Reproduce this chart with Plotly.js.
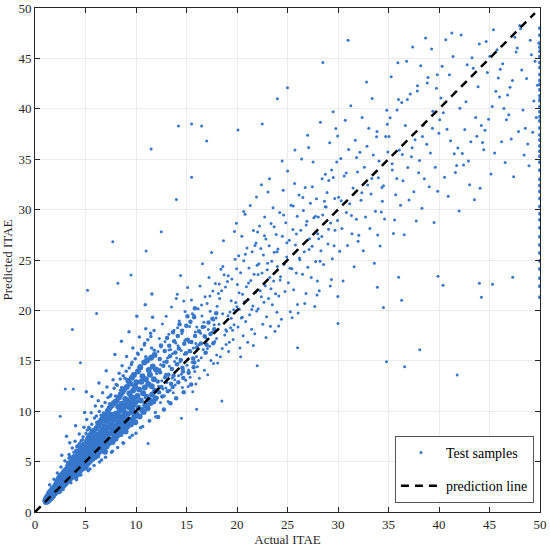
<!DOCTYPE html>
<html>
<head>
<meta charset="utf-8">
<script src="https://cdn.plot.ly/plotly-3.0.1.min.js"></script>
<style>html,body{margin:0;padding:0;background:#fff}#chart{width:550px;height:548px}</style>
</head>
<body>
<div id="chart"></div>
<script>
// Dense core of test samples [actual, predicted]
const coreSamples = [
[1.02,1.15],[1.07,0.98],[1.13,1.42],[1.18,1.21],[1.24,1.05],[1.29,1.63],[1.33,1.37],[1.38,1.19],[1.41,1.88],[1.46,1.52],[1.52,1.31],[1.55,2.07],[1.61,1.68],[1.64,1.44],[1.69,1.93],[1.73,2.31],[1.78,1.62],[1.82,2.04],[1.86,1.75],[1.91,2.46],[1.94,1.83],[1.98,2.19],
[2.03,2.62],[2.06,1.94],[2.11,2.33],[2.14,2.85],[2.19,2.07],[2.23,2.51],[2.27,3.12],[2.31,2.24],[2.36,2.73],[2.38,3.38],[2.42,2.16],[2.47,2.95],[2.51,2.58],[2.53,3.57],[2.58,2.37],[2.62,3.06],[2.66,2.81],[2.69,3.71],[2.73,2.55],[2.77,3.29],[2.81,2.98],[2.84,3.92],[2.88,2.67],[2.93,3.44],[2.97,3.16],[2.99,4.08],
[3.02,2.83],[3.05,3.61],[3.09,3.27],[3.12,4.22],[3.16,3.02],[3.21,3.83],[3.24,3.45],[3.27,4.47],[3.31,3.14],[3.35,3.96],[3.38,3.62],[3.42,4.71],[3.46,3.31],[3.49,4.15],[3.53,3.78],[3.57,4.96],[3.6,3.42],[3.64,4.33],[3.67,3.95],[3.71,5.12],[3.74,3.58],[3.78,4.52],[3.82,4.09],[3.85,5.31],[3.89,3.71],[3.93,4.68],[3.96,4.27],[3.99,3.49],
[4.02,4.83],[4.05,3.82],[4.09,5.47],[4.13,4.41],[4.16,3.69],[4.21,5.08],[4.24,5.83],[4.28,4.62],[4.32,3.97],[4.35,5.29],[4.39,6.05],[4.42,4.78],[4.47,4.12],[4.5,5.52],[4.53,6.31],[4.57,4.95],[4.61,4.23],[4.64,5.74],[4.68,5.16],[4.71,6.48],[4.75,4.41],[4.79,5.91],[4.82,5.33],[4.86,6.66],[4.9,4.57],[4.93,6.1],[4.97,5.48],[4.99,4.38],
[5.03,5.87],[5.06,4.61],[5.1,6.52],[5.14,5.24],[5.17,7.09],[5.21,4.83],[5.25,6.14],[5.28,5.61],[5.32,7.38],[5.36,4.97],[5.39,6.71],[5.43,5.82],[5.47,7.63],[5.5,5.13],[5.54,6.35],[5.58,6.96],[5.61,5.47],[5.65,7.88],[5.69,5.29],[5.72,6.58],[5.76,7.21],[5.8,5.66],[5.83,8.07],[5.87,6.12],[5.91,5.43],[5.94,7.44],[5.98,6.79],
[6.02,5.71],[6.05,7.02],[6.09,8.31],[6.13,6.37],[6.16,5.58],[6.2,7.66],[6.24,6.84],[6.27,8.59],[6.31,5.92],[6.35,7.23],[6.38,6.51],[6.42,8.88],[6.46,6.06],[6.49,7.91],[6.53,7.04],[6.57,9.12],[6.6,6.28],[6.64,7.47],[6.68,8.23],[6.71,6.73],[6.75,9.37],[6.79,6.21],[6.82,7.71],[6.86,8.52],[6.9,6.95],[6.93,5.98],[6.97,9.61],
[7.02,7.36],[7.05,8.14],[7.09,6.49],[7.13,9.03],[7.16,7.68],[7.2,10.02],[7.24,6.77],[7.27,8.41],[7.31,7.12],[7.35,9.34],[7.38,10.31],[7.42,6.92],[7.46,8.69],[7.49,7.81],[7.53,9.66],[7.57,7.19],[7.6,10.57],[7.64,8.27],[7.68,6.95],[7.71,9.11],[7.75,7.96],[7.79,10.79],[7.82,8.53],[7.86,7.42],[7.9,9.48],[7.93,8.11],[7.97,7.26],
[8.02,9.78],[8.05,8.39],[8.09,11.02],[8.13,7.56],[8.16,9.17],[8.2,8.72],[8.24,10.44],[8.27,7.83],[8.31,11.36],[8.35,9.52],[8.38,8.21],[8.42,10.08],[8.46,7.71],[8.49,11.68],[8.53,9.03],[8.57,8.58],[8.6,10.73],[8.64,8.04],[8.68,11.94],[8.71,9.41],[8.75,10.26],[8.79,8.37],[8.82,12.18],[8.86,9.86],[8.9,8.81],[8.93,11.22],[8.97,7.98],
[9.02,10.61],[9.05,9.21],[9.09,12.41],[9.13,8.46],[9.16,11.04],[9.2,9.73],[9.24,13.02],[9.27,8.83],[9.31,10.38],[9.35,11.77],[9.38,9.12],[9.42,12.73],[9.46,10.86],[9.49,8.67],[9.53,11.42],[9.57,9.94],[9.6,13.31],[9.64,10.19],[9.68,8.98],[9.71,12.06],[9.75,10.64],[9.79,13.58],[9.82,9.46],[9.86,11.29],[9.9,12.47],[9.93,8.91],[9.97,10.92],
[10.03,12.88],[10.08,9.67],[10.14,11.51],[10.19,13.94],[10.25,10.33],[10.31,12.16],[10.36,9.48],[10.42,14.37],[10.47,11.07],[10.53,12.92],[10.59,10.12],[10.64,13.46],[10.7,11.78],[10.76,9.91],[10.81,14.82],[10.87,12.35],[10.92,10.58],[10.98,13.17],
[11.04,11.44],[11.09,15.03],[11.15,10.29],[11.21,12.71],[11.26,14.08],[11.32,11.12],[11.38,13.62],[11.43,10.81],[11.49,15.31],[11.55,12.47],[11.6,11.66],[11.66,14.44],[11.72,10.97],[11.77,13.18],[11.83,15.57],[11.89,12.03],[11.94,11.28],[11.99,14.11]
];

// Second dense band near the line, actual 12-18 [actual, predicted]
const bandSamples = [
[12.15,12.94],[12.38,13.86],[12.52,12.41],[12.71,14.52],[12.89,13.37],[13.03,14.91],[13.21,13.62],[13.36,15.44],[13.55,14.18],[13.72,13.51],[13.9,15.83],[14.06,14.67],[14.24,16.22],[14.43,15.09],[14.59,14.31],[14.77,16.68],[14.95,15.74],[15.13,17.09],[15.31,15.98],[15.48,16.87],
[15.66,15.22],[15.85,17.46],[16.04,16.31],[16.23,17.93],[16.42,16.72],[16.61,18.35],[16.8,17.44],[16.99,16.58],[17.18,18.79],[17.37,17.66],[17.56,19.18],[17.75,18.12],[17.94,19.71],[12.28,11.87],[13.47,12.73],[14.65,13.94],[15.77,14.83],[16.88,15.79],[17.65,16.74],
[12.19,9.42],[12.47,16.53],[12.76,10.16],[13.08,17.27],[13.41,10.78],[13.66,17.84],[13.97,11.29],[14.31,18.62],[14.72,11.88],[15.09,19.43],[15.46,12.65],[15.83,20.21],[12.35,15.18],[12.84,15.96],[13.29,16.49],[13.78,16.94],[14.14,17.46],[14.57,17.99],[14.98,18.47],[15.39,18.87],
[15.76,19.32],[12.61,11.47],[13.15,11.98],[13.63,12.39],[14.19,12.86],[14.68,13.29],[15.22,13.81],[15.71,14.35]
];

// Halo around the core [actual, predicted]
const haloSamples = [
[1.45,2.71],[1.88,3.24],[2.21,3.87],[2.44,1.93],[2.57,4.46],[2.79,2.22],[2.96,5.08],[3.18,4.62],[3.37,5.71],[3.55,2.91],[3.69,6.34],[3.81,5.58],[3.97,7.02],[4.11,3.21],[4.26,6.61],[4.38,7.73],[4.55,3.68],[4.69,7.18],[4.84,8.41],[4.96,6.92],
[5.12,9.17],[5.27,4.09],[5.41,8.26],[5.56,9.84],[5.71,7.63],[5.85,4.62],[5.97,10.52],[6.11,8.87],[6.26,11.04],[6.39,4.97],[6.55,9.61],[6.69,11.83],[6.84,8.96],[6.98,5.42],[7.12,12.41],[7.28,10.27],[7.44,11.49],[7.58,5.93],[7.73,13.12],[7.88,11.03],
[8.04,12.64],[8.18,6.41],[8.33,13.77],[8.48,12.08],[8.62,14.51],[8.77,6.83],[8.91,13.26],[9.07,15.42],[9.22,12.91],[9.38,7.38],[9.54,14.63],[9.69,16.28],[9.84,13.55],[9.99,7.82],[10.16,15.74],[10.33,17.36],[10.49,14.21],[10.66,8.49],[10.83,16.57],[10.97,18.18],
[11.14,15.12],[11.31,9.03],[11.47,17.42],[11.64,19.31],[11.81,16.04],[11.96,9.46],[2.65,5.62],[3.44,6.88],[4.02,8.55],[4.91,9.86],[5.63,11.47],[6.33,12.79],[7.05,14.02],[7.91,15.63],[8.56,16.94],[9.31,17.88],[10.08,19.42],[10.91,20.56],[11.58,21.63],[3.12,7.51],[5.08,11.92],
[3.21,4.91],[3.52,5.47],[3.86,5.92],[4.14,6.47],[4.43,6.83],[4.77,7.46],[5.05,7.79],[5.33,8.42],[5.62,8.71],[5.89,9.33],[3.35,5.36],[4.06,6.12],[4.58,7.07],[5.18,8.14],[5.74,8.06],
[6.08,9.52],[6.37,9.97],[6.62,10.48],[6.94,10.86],[7.23,11.37],[7.51,11.62],[7.84,12.28],[8.14,12.57],[8.44,13.19],[8.73,13.51],[6.21,8.94],[6.78,9.83],[7.37,10.74],[7.97,11.51],[8.58,12.36],
[9.03,13.97],[9.33,14.29],[9.61,14.86],[9.92,15.21],[10.22,15.65],[10.54,16.12],[10.86,16.74],[11.17,17.08],[11.45,17.73],[11.79,18.01],[9.17,12.89],[9.76,13.72],[10.38,14.52],[10.97,15.41],[11.55,16.28],
[5.44,4.26],[6.58,5.15],[7.66,6.02],[8.71,6.88],[9.63,7.61],[10.45,8.37],[11.36,9.05],[11.92,9.86]
];

// Main spread of test samples [actual, predicted]
const spreadSamples = [
[12.04,13.71],[12.11,11.36],[12.17,15.92],[12.23,12.48],[12.31,17.21],[12.36,14.13],[12.42,10.87],[12.49,16.38],[12.55,13.02],[12.61,18.64],[12.68,12.19],[12.74,14.87],[12.82,11.53],[12.87,16.91],[12.93,13.66],[12.99,19.41],
[13.06,12.84],[13.12,15.28],[13.18,10.96],[13.25,17.63],[13.31,14.47],[13.38,12.07],[13.44,16.12],[13.51,20.33],[13.57,13.29],[13.62,15.71],[13.69,11.84],[13.76,18.02],[13.82,14.92],[13.88,12.61],[13.94,16.77],[13.99,21.18],
[15.99,15.43],[15.93,12.71],[15.87,17.86],[15.81,13.94],[15.74,19.52],[15.68,16.27],[15.62,11.92],[15.56,14.86],[15.49,21.03],[15.43,15.9],[15.36,13.38],[15.3,18.41],[15.24,16.84],[15.17,12.46],[15.11,22.27],[15.05,14.55],
[14.98,17.13],[14.92,13.07],[14.86,19.88],[14.79,15.66],[14.73,20.94],[14.67,14.21],[14.6,12.34],[14.54,17.72],[14.47,16.03],[14.41,23.46],[14.35,14.88],[14.28,18.96],[14.22,13.52],[14.16,16.49],[14.09,21.61],[14.03,15.27],
[16.02,18.36],[16.08,14.42],[16.15,20.17],[16.21,16.59],[16.27,13.28],[16.34,22.41],[16.4,17.74],[16.46,15.31],[16.53,19.45],[16.59,24.62],[16.65,16.12],[16.72,18.83],[16.78,14.07],[16.84,21.36],[16.91,17.29],[16.97,15.84],
[17.04,20.68],[17.1,13.61],[17.16,18.11],[17.23,23.27],[17.29,16.44],[17.35,19.92],[17.42,15.03],[17.48,25.74],[17.55,17.86],[17.61,21.93],[17.67,14.72],[17.74,18.57],[17.8,16.91],[17.86,22.68],[17.93,19.24],[17.99,15.57],
[18.03,20.41],[18.54,16.23],[19.05,22.87],[19.56,18.04],[18.09,14.79],[18.6,24.36],[19.11,19.47],[19.62,17.12],[18.16,21.68],[18.66,26.91],[19.17,15.92],[19.68,20.06],[18.22,18.63],[18.73,23.54],[19.24,16.84],[19.75,27.82],
[18.28,21.19],[18.79,17.56],[19.3,19.83],[19.81,25.07],[18.35,15.41],[18.86,22.33],[19.36,18.27],[19.87,20.78],[18.41,24.09],[18.92,16.62],[19.43,19.21],[19.94,28.64],[18.47,21.96],[18.98,17.93],[19.49,23.12],[19.99,20.35],
[20.04,22.58],[20.1,18.36],[20.17,25.41],[20.23,20.12],[20.29,16.27],[20.36,23.73],[20.42,19.24],[20.48,27.36],[20.55,21.61],[20.61,17.48],[20.67,24.92],[20.74,20.87],[20.8,29.53],[20.86,18.91],[20.93,22.34],[20.99,26.18],
[21.06,16.83],[21.12,21.07],[21.18,24.21],[21.25,19.56],[21.31,30.41],[21.37,22.96],[21.44,18.12],[21.5,25.83],[21.57,20.44],[21.63,27.92],[21.69,23.58],[21.76,17.69],[21.82,21.78],[21.88,26.69],[21.95,19.93],[21.99,24.47],
[23.99,24.36],[23.95,19.81],[23.88,27.52],[23.82,21.64],[23.76,17.94],[23.69,25.77],[23.63,22.91],[23.57,30.18],[23.5,20.57],[23.44,24.88],[23.37,28.63],[23.31,18.42],[23.25,23.26],[23.18,26.41],[23.12,21.19],[23.06,31.74],
[22.99,24.03],[22.93,19.37],[22.86,27.08],[22.8,22.45],[22.74,29.26],[22.67,20.82],[22.61,25.49],[22.55,18.63],[22.48,23.71],[22.42,32.47],[22.36,26.14],[22.29,21.96],[22.23,28.37],[22.17,24.62],[22.1,20.16],[22.04,27.79],
[24.05,26.08],[24.14,21.43],[24.23,29.71],[24.31,23.35],[24.4,19.12],[24.49,27.36],[24.57,31.92],[24.66,24.58],[24.75,21.87],[24.83,28.69],[24.92,25.31],[25.01,33.84],[25.09,22.74],[25.18,26.97],[25.27,19.86],[25.35,30.44],
[25.44,24.13],[25.53,28.02],[25.61,22.06],[25.7,32.58],[25.79,26.49],[25.87,23.71],[25.96,29.35],[25.99,20.58],
[27.99,27.61],[27.96,22.92],[27.87,31.07],[27.79,24.84],[27.7,20.38],[27.61,29.18],[27.53,34.73],[27.44,26.37],[27.35,23.26],[27.27,30.62],[27.18,27.11],[27.09,36.15],[27.01,24.29],[26.92,28.84],[26.83,21.67],[26.75,32.19],
[26.66,25.83],[26.57,29.91],[26.49,23.58],[26.4,35.02],[26.31,27.94],[26.23,25.02],[26.14,31.46],[26.05,19.73],
[28.05,29.27],[28.57,24.56],[29.09,32.88],[29.61,26.41],[28.14,21.94],[28.66,30.83],[29.18,36.62],[29.7,27.95],[28.23,24.88],[28.75,33.51],[29.27,28.66],[29.79,38.04],[28.31,25.92],[28.83,30.27],[29.35,23.06],[29.87,34.71],
[28.4,27.34],[28.92,31.69],[29.44,25.13],[29.96,37.29],[28.49,29.46],[29.01,26.58],[29.53,33.18],[29.99,21.37],
[30.06,31.22],[30.17,25.86],[30.28,35.07],[30.39,28.13],[30.5,22.91],[30.61,33.34],[30.72,38.86],[30.83,29.72],[30.94,26.44],[31.05,35.96],[31.16,30.58],[31.27,40.31],[31.38,27.61],[31.49,32.14],[31.6,24.32],[31.71,36.88],[31.82,29.05],[31.93,33.72],[31.99,26.87],
[33.99,33.16],[33.93,27.49],[33.82,37.23],[33.71,29.84],[33.6,24.67],[33.49,35.41],[33.38,41.02],[33.27,31.56],[33.16,28.13],[33.05,38.07],[32.94,32.43],[32.83,42.66],[32.72,29.27],[32.61,34.19],[32.5,25.93],[32.39,39.14],[32.28,30.92],[32.17,35.68],[32.06,27.45],
[34.06,34.82],[34.61,29.06],[35.16,39.11],[35.71,31.47],[34.17,26.38],[34.72,37.24],[35.27,43.17],[35.82,33.09],[34.28,29.75],[34.83,39.86],[35.38,33.92],[35.93,44.58],[34.39,30.83],[34.94,35.71],[35.49,27.64],[35.99,40.93],[34.5,32.37],[35.05,37.26],[35.6,28.97],
[36.07,35.91],[36.19,30.42],[36.31,40.63],[36.43,32.86],[36.55,27.51],[36.67,38.34],[36.79,44.71],[36.91,34.17],[37.03,30.95],[37.15,41.47],[37.27,35.24],[37.39,46.12],[37.51,31.78],[37.63,36.92],[37.75,28.86],[37.87,42.28],[37.99,33.65],
[39.99,37.58],[39.87,31.83],[39.75,42.04],[39.63,34.21],[39.51,28.72],[39.39,39.76],[39.27,45.93],[39.15,35.62],[39.03,32.26],[38.91,43.11],[38.79,36.49],[38.67,47.03],[38.55,33.07],[38.43,38.37],[38.31,30.14],[38.19,44.26],[38.07,34.88],
[40.07,38.92],[40.55,33.21],[41.03,43.38],[41.51,35.54],[41.99,29.86],[40.19,41.07],[40.67,46.84],[41.15,36.83],[41.63,33.67],[40.31,44.21],[40.79,37.96],[41.27,47.52],[41.75,34.38],[40.43,39.62],[40.91,31.33],[41.39,45.18],[41.87,36.11],
[42.07,40.06],[42.43,34.43],[42.79,44.37],[43.15,36.72],[43.51,30.97],[43.87,42.18],[42.19,47.31],[42.55,37.94],[42.91,34.82],[43.27,45.06],[43.63,39.13],[43.99,46.42],[42.31,35.57],[42.67,40.71],[43.03,32.46],[43.39,44.02],[43.75,37.28],
[45.99,41.17],[45.51,35.61],[45.03,45.22],[44.55,37.88],[44.07,32.12],[45.87,43.06],[45.39,47.84],[44.91,38.97],[44.43,35.93],[45.75,45.87],[45.27,40.24],[44.79,43.61],[44.31,36.66],[45.63,41.73],[45.15,33.52],[44.67,46.68],[44.19,38.35],
[47.03,42.13],[46.19,36.72],[47.75,46.04],[46.67,38.91],[47.39,33.27],[46.07,43.92],[47.99,48.26],[46.43,40.04],[47.15,37.01],[47.63,45.63],[46.79,41.36],[46.31,44.47],[47.87,37.74],[47.27,42.81],[46.55,34.68],[47.51,47.11],[46.91,39.42],
[48.67,43.01],[49.27,37.68],[49.87,46.52],[48.31,39.87],[48.91,34.36],[49.51,44.71],[48.07,47.93],[49.99,41.02],[48.55,38.07],[49.15,45.36],[49.75,42.33],[48.19,43.84],[48.79,36.52],[49.39,40.77],[48.43,35.42],[49.03,46.81],[49.63,39.13],
// outliers
[3.7,18.1],[3.0,12.2],[3.8,12.2],[6.1,19.7],[8.2,22.7],[7.7,26.8],[5.2,22.0],[2.5,9.5],[4.5,14.8],[9.5,23.5],
[11.0,25.9],[12.5,27.8],[14.0,31.0],[15.5,33.2],[17.0,36.8],[20.1,37.9],[22.5,38.5],[25.0,42.1],[28.5,44.6],[31.0,46.8],
[18.5,11.0],[22.0,14.5],[26.0,16.3],[30.0,18.7],[34.8,14.9],[36.6,14.4],[38.1,16.1],[41.8,13.6],[39.9,23.4],[47.3,23.3],
[45.3,22.6],[44.0,22.7],[44.2,21.3],[40.4,22.5],[36.3,21.0],[34.5,20.3],[33.9,22.3],[36.0,23.3],[11.2,6.8],[14.5,9.3],
[16.0,10.2],[24.0,41.0],[11.5,36.0],[14.2,38.3],[15.5,38.5],[16.5,38.3]
];

// Extra mid-range test samples, actual 12-40 [actual, predicted]
const midSamples = [
[12.44,14.62],[12.96,12.31],[13.27,16.08],[13.83,13.12],[14.12,18.27],[14.49,13.67],[14.83,17.02],[15.21,14.09],[15.58,19.66],[15.92,16.71],[16.18,15.02],[16.49,20.54],[16.83,18.37],[17.07,16.23],[17.32,21.42],[17.69,19.04],[17.97,17.21],[18.24,22.61],[18.58,19.68],[18.89,18.07],[19.13,23.44],[19.42,20.96],[19.71,18.58],[19.96,24.13],
[20.21,21.74],[20.52,19.32],[20.83,25.56],[21.14,22.71],[21.47,20.08],[21.78,26.43],[22.09,23.57],[22.41,21.36],[22.72,27.41],[23.03,24.68],[23.36,22.14],[23.68,28.29],[23.97,25.81],[24.27,23.02],[24.61,29.47],[24.94,26.72],
[25.24,24.17],[25.57,30.36],[25.88,27.58],[26.18,25.21],[26.52,31.19],[26.85,28.47],[27.14,26.03],[27.46,32.27],[27.77,29.34],[28.09,27.12],[28.43,33.05],[28.74,30.28],[29.06,28.04],[29.37,33.94],[29.68,31.09],[29.95,28.93],
[20.36,15.41],[21.62,16.52],[22.87,17.31],[24.13,18.46],[25.46,19.27],[26.71,20.68],[27.92,21.53],[29.23,22.42],
[20.66,29.82],[21.93,31.24],[23.21,33.06],[24.47,34.81],[25.74,35.92],[26.99,37.38],[28.26,38.66],[29.52,39.71],
[30.32,30.87],[30.81,33.62],[31.33,29.41],[31.84,35.18],[32.36,31.66],[32.87,36.29],[33.34,33.08],[33.86,37.74],[34.35,32.19],[34.88,38.47],[35.36,34.56],[35.85,39.88],[36.37,35.47],[36.86,40.93],[37.34,36.13],[37.85,41.76],[38.36,37.25],[38.84,42.57],[39.35,38.07],[39.83,43.39]
];

// Samples capped at actual = 50 (right edge column) [actual, predicted]
const edgeSamples = [
[50,21.3],[50,22.4],[50,23.2],[50,24.1],[50,24.9],[50,25.7],[50,26.5],[50,27.3],[50,28.2],[50,29.0],[50,29.6],[50,30.3],[50,31.1],[50,31.8],
[50,32.4],[50,33.0],[50,33.9],[50,34.7],[50,35.3],[50,35.8],[50,36.3],[50,36.9],[50,37.4],[50,38.1],[50,38.8],[50,39.2],[50,39.7],[50,40.2],
[50,40.8],[50,41.3],[50,41.9],[50,42.4],[50,42.8],[50,43.4],[50,44.1],[50,44.6],[50,45.2],[50,45.7],[50,46.1],[50,46.5],[50,47.3],[50,48.0]
];

// Ideal prediction line endpoints
const lineActual = [0, 49.5];
const linePredicted = [0, 49.5];

const blue = '#3677cc';
const col = (arr, i) => arr.map(r => r[i]);
const serif = '"Liberation Serif", "Times New Roman", serif';

const traces = [
  {x: col(coreSamples,0), y: col(coreSamples,1), type:'scatter', mode:'markers',
   marker:{color:blue, size:6}, showlegend:false},
  {x: col(bandSamples,0), y: col(bandSamples,1), type:'scatter', mode:'markers',
   marker:{color:blue, size:4.5}, showlegend:false},
  {x: col(haloSamples,0), y: col(haloSamples,1), type:'scatter', mode:'markers',
   marker:{color:blue, size:3.5}, showlegend:false},
  {x: col(midSamples,0), y: col(midSamples,1), type:'scatter', mode:'markers',
   marker:{color:blue, size:3}, showlegend:false},
  {x: col(edgeSamples,0), y: col(edgeSamples,1), type:'scatter', mode:'markers',
   marker:{color:blue, size:4}, showlegend:false},
  {x: col(spreadSamples,0), y: col(spreadSamples,1), type:'scatter', mode:'markers',
   name:'Test samples', legendgroup:'a', marker:{color:blue, size:3}},
  {x: lineActual, y: linePredicted, type:'scatter', mode:'lines', name:'prediction line',
   legendgroup:'b', line:{color:'#000', width:2.5, dash:'8px,6px'}}
];

const axisBase = {
  range:[0,50], dtick:5, tick0:0, ticks:'inside', ticklen:5, tickwidth:1, tickcolor:'#262626',
  showline:true, linecolor:'#262626', linewidth:1, mirror:'ticks',
  showgrid:true, gridcolor:'#ebebeb', gridwidth:1, zeroline:false,
  tickfont:{family:serif, size:13, color:'#262626'}, fixedrange:true
};

const layout = {
  width:550, height:548,
  margin:{l:35, r:10, t:8, b:36},
  paper_bgcolor:'#fff', plot_bgcolor:'#fff',
  font:{family:serif, size:13, color:'#262626'},
  xaxis: Object.assign({}, axisBase, {title:{text:'Actual ITAE', font:{family:serif, size:13, color:'#262626'}, standoff:2}}),
  yaxis: Object.assign({}, axisBase, {title:{text:'Predicted ITAE', font:{family:serif, size:13, color:'#262626'}, standoff:4}}),
  legend:{x:0.988, y:0.018, xanchor:'right', yanchor:'bottom', bgcolor:'#fff',
    bordercolor:'#555', borderwidth:1, font:{family:serif, size:14, color:'#000'},
    traceorder:'grouped', tracegroupgap:12, itemwidth:40},
  showlegend:true
};

Plotly.newPlot('chart', traces, layout, {displayModeBar:false, staticPlot:true});
</script>
</body>
</html>
